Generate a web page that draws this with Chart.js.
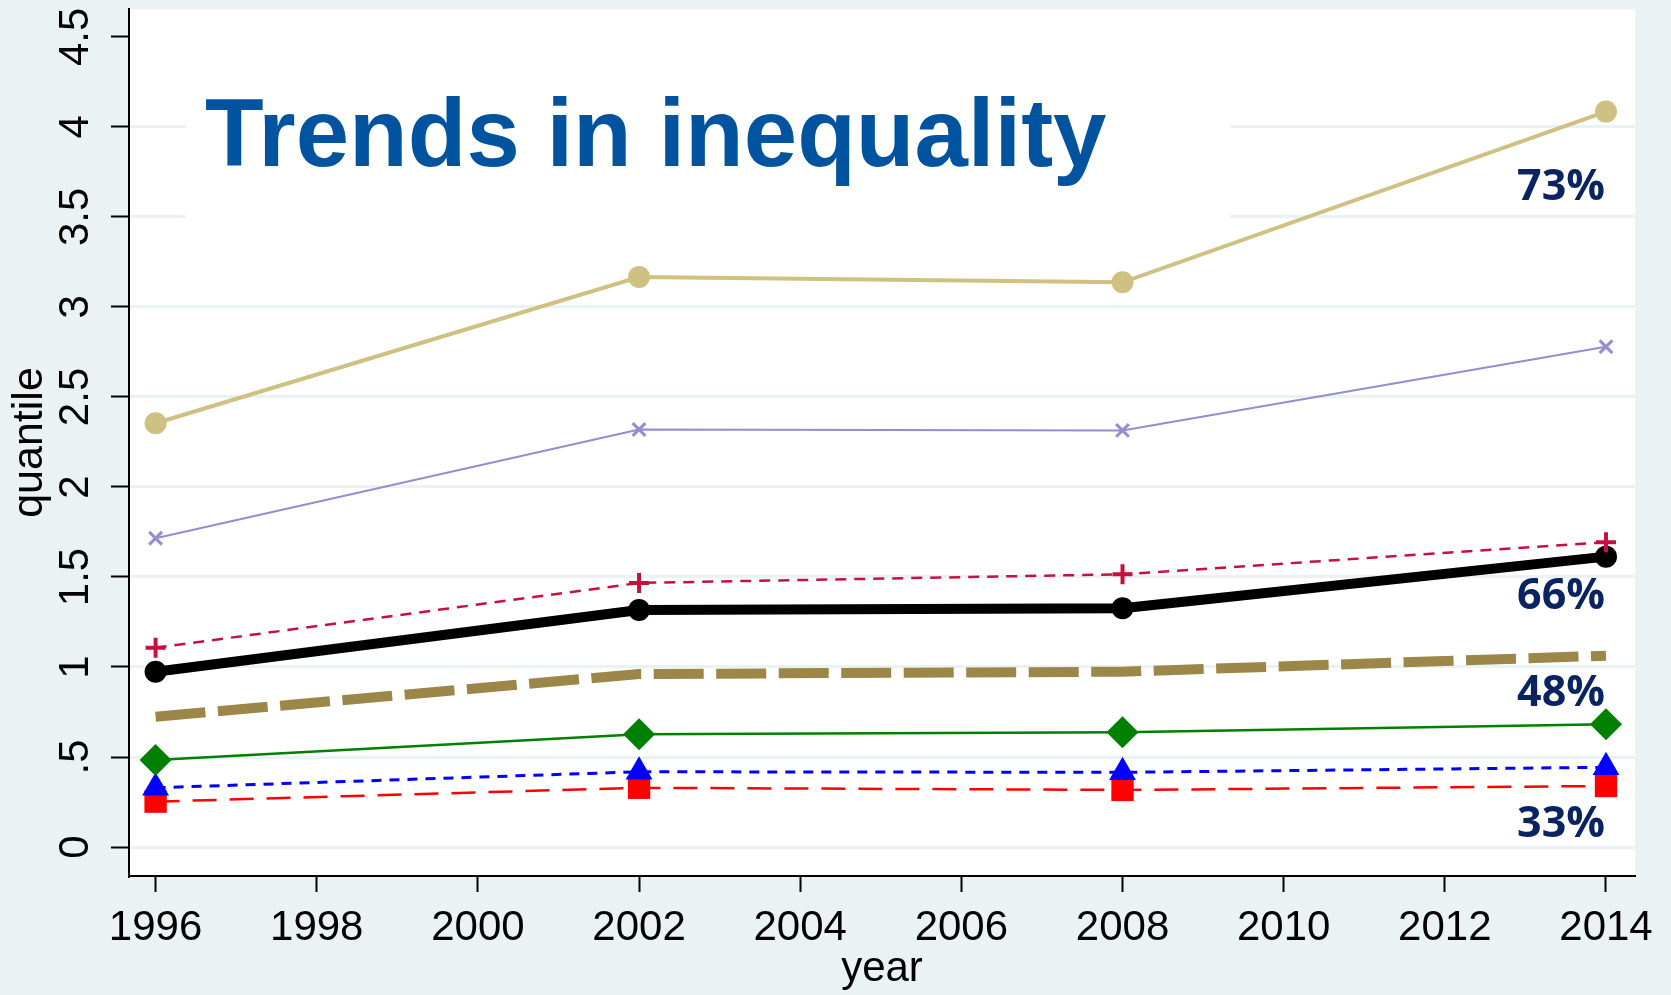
<!DOCTYPE html>
<html>
<head>
<meta charset="utf-8">
<script src="https://cdn.jsdelivr.net/npm/chart.js@4/dist/chart.umd.min.js"></script>
<style>
  html, body { margin: 0; padding: 0; background: #EAF2F3; }
  #wrap { width: 1671px; height: 995px; }
  canvas { display: block; }
</style>
</head>
<body>
<div id="wrap"><canvas id="c" width="1671" height="995"></canvas></div>
<script>
// ---------------- data ----------------
const years = [1996, 2002, 2008, 2014];

const tanCircle    = [2.354, 3.166, 3.137, 4.085];
const purpleX      = [1.715, 2.319, 2.314, 2.779];
const crimsonPlus  = [1.107, 1.467, 1.515, 1.693];
const blackCircle  = [0.974, 1.317, 1.326, 1.613];
const brownDash    = [0.724, 0.961, 0.974, 1.063];
const greenDiamond = [0.483, 0.626, 0.637, 0.682];
const blueTriangle = [0.329, 0.418, 0.415, 0.443];
const redSquare    = [0.252, 0.329, 0.317, 0.339];

const xTickValues = [1996, 1998, 2000, 2002, 2004, 2006, 2008, 2010, 2012, 2014];
const yTickValues = [0, 0.5, 1, 1.5, 2, 2.5, 3, 3.5, 4, 4.5];
const yTickLabels = ["0", ".5", "1", "1.5", "2", "2.5", "3", "3.5", "4", "4.5"];

const noteTexts = ["73%", "66%", "48%", "33%"];
const noteY     = [3.678, 1.409, 0.868, 0.141];
const noteX     = 2014;

const chartTitle = "Trends in inequality";
const xTitle = "year";
const yTitle = "quantile";

// ---------------- helpers ----------------
const pts = arr => years.map((yr, i) => ({ x: yr, y: arr[i] }));
const BG = '#EAF2F3';
const GRID = '#EAF2F3';
const TXT = "'Liberation Sans', Arial, sans-serif";

const bgPlugin = {
  id: 'bg',
  beforeDraw(chart) {
    const { ctx, chartArea: a } = chart;
    ctx.save();
    ctx.fillStyle = BG;
    ctx.fillRect(0, 0, chart.width, chart.height);
    ctx.fillStyle = '#FFFFFF';
    ctx.fillRect(a.left, a.top, a.right - a.left, a.bottom - a.top);
    ctx.restore();
  }
};

const titlePlugin = {
  id: 'titleBox',
  beforeDatasetsDraw(chart) {
    const { ctx, chartArea: a } = chart;
    ctx.save();
    // white text box behind title (covers grid lines)
    ctx.fillStyle = '#FFFFFF';
    ctx.fillRect(a.left + 57, a.top + 45, 1044, 200);
    ctx.fillStyle = '#00549F';
    ctx.font = "bold 96px " + TXT;
    ctx.textAlign = 'left';
    ctx.textBaseline = 'alphabetic';
    ctx.fillText(chartTitle, a.left + 76, a.top + 157);
    ctx.restore();
  }
};

const notesPlugin = {
  id: 'notes',
  afterDatasetsDraw(chart) {
    const { ctx } = chart;
    const xs = chart.scales.x, ys = chart.scales.y;
    ctx.save();
    ctx.fillStyle = '#0A2463';
    ctx.font = "bold 43px 'Open Sans', 'Noto Sans', sans-serif";
    ctx.textAlign = 'right';
    ctx.textBaseline = 'alphabetic';
    noteTexts.forEach((t, i) => {
      ctx.fillText(t, xs.getPixelForValue(noteX) - 1, ys.getPixelForValue(noteY[i]) + 15.5);
    });
    ctx.restore();
  }
};

const base = { tension: 0, fill: false, pointBorderWidth: 0, pointHoverRadius: 0 };

const datasets = [
  Object.assign({}, base, { label: 'red', data: pts(redSquare), borderColor: '#FF0000', borderWidth: 2.5,
    borderDash: [24, 13], pointStyle: 'rect', pointRadius: 15.8, pointBackgroundColor: '#FF0000' }),
  Object.assign({}, base, { label: 'blue', data: pts(blueTriangle), borderColor: '#0000FF', borderWidth: 3,
    borderDash: [10, 8], pointStyle: 'triangle', pointRadius: 15.5, pointBackgroundColor: '#0000FF' }),
  Object.assign({}, base, { label: 'green', data: pts(greenDiamond), borderColor: '#008000', borderWidth: 2.5,
    pointStyle: 'rectRot', pointRadius: 16, pointBackgroundColor: '#008000' }),
  Object.assign({}, base, { label: 'brown', data: pts(brownDash), borderColor: '#9C8748', borderWidth: 10,
    borderDash: [50, 12.5], borderCapStyle: 'butt', pointRadius: 0 }),
  Object.assign({}, base, { label: 'black', data: pts(blackCircle), borderColor: '#000000', borderWidth: 10,
    borderJoinStyle: 'round', pointStyle: 'circle', pointRadius: 11, pointBackgroundColor: '#000000' }),
  Object.assign({}, base, { label: 'crimson', data: pts(crimsonPlus), borderColor: '#C8103C', borderWidth: 2.5,
    borderDash: [11, 8], pointStyle: 'cross', pointRadius: 10, pointBorderWidth: 4,
    pointBorderColor: '#C8103C', pointBackgroundColor: '#C8103C' }),
  Object.assign({}, base, { label: 'purple', data: pts(purpleX), borderColor: '#938DD2', borderWidth: 2,
    pointStyle: 'crossRot', pointRadius: 9, pointBorderWidth: 3,
    pointBorderColor: '#938DD2', pointBackgroundColor: '#938DD2' }),
  Object.assign({}, base, { label: 'tan', data: pts(tanCircle), borderColor: '#CEC182', borderWidth: 4,
    pointStyle: 'circle', pointRadius: 11, pointBackgroundColor: '#CEC182' })
].reverse();

new Chart(document.getElementById('c'), {
  type: 'line',
  data: { datasets },
  plugins: [bgPlugin, titlePlugin, notesPlugin],
  options: {
    responsive: false,
    animation: false,
    devicePixelRatio: 1,
    layout: { autoPadding: false, padding: { top: 9, right: 36, left: 0, bottom: 0 } },
    plugins: { legend: { display: false }, tooltip: { enabled: false }, title: { display: false } },
    events: [],
    scales: {
      x: {
        type: 'linear',
        min: 1995.67, max: 2014.36,
        afterBuildTicks: s => { s.ticks = xTickValues.map(v => ({ value: v })); },
        afterFit: s => { s.height = 119; s.paddingLeft = 0; s.paddingRight = 0; s.paddingTop = 0; s.paddingBottom = 0; },
        ticks: {
          autoSkip: false, maxRotation: 0, minRotation: 0, padding: 11,
          color: '#000', font: { family: TXT, size: 42 },
          callback: v => String(v)
        },
        grid: { drawOnChartArea: false, drawTicks: true, tickLength: 16, tickColor: '#000', tickWidth: 2, color: '#000' },
        border: { display: true, color: '#000', width: 2 },
        title: { display: true, text: xTitle, color: '#000', font: { family: TXT, size: 42 }, padding: { top: 0, bottom: 0 } }
      },
      y: {
        type: 'linear',
        min: -0.161, max: 4.655,
        afterBuildTicks: s => { s.ticks = yTickValues.map(v => ({ value: v })); },
        afterFit: s => { s.width = 129; s.paddingLeft = 0; s.paddingRight = 0; s.paddingTop = 0; s.paddingBottom = 0; },
        ticks: {
          autoSkip: false, minRotation: 90, maxRotation: 90, crossAlign: 'center', padding: 5,
          color: '#000', font: { family: TXT, size: 42 },
          callback: v => yTickLabels[yTickValues.indexOf(v)]
        },
        grid: {
          drawOnChartArea: true, drawTicks: true, tickLength: 18, tickColor: '#000', tickWidth: 2,
          lineWidth: 3,
          color: c => (c.tick && c.tick.value === 4.5) ? 'rgba(0,0,0,0)' : GRID
        },
        border: { display: true, color: '#000', width: 2 },
        title: { display: true, text: yTitle, color: '#000', font: { family: TXT, size: 43 }, padding: { top: 4, bottom: 0 } }
      }
    }
  }
});
</script>
</body>
</html>
